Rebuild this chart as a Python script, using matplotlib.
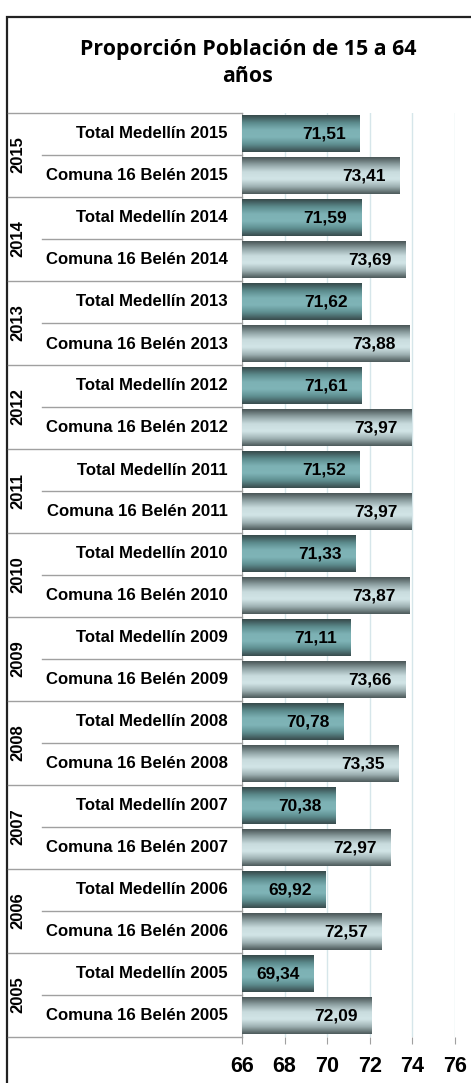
import numpy as np
import matplotlib.pyplot as plt
from matplotlib.colors import LinearSegmentedColormap
from matplotlib.patches import Rectangle
from matplotlib.lines import Line2D

# Data (top to bottom in the chart)
years = [2015, 2014, 2013, 2012, 2011, 2010, 2009, 2008, 2007, 2006, 2005]
medellin = [71.51, 71.59, 71.62, 71.61, 71.52, 71.33, 71.11, 70.78, 70.38, 69.92, 69.34]
comuna = [73.41, 73.69, 73.88, 73.97, 73.97, 73.87, 73.66, 73.35, 72.97, 72.57, 72.09]
xticks = [66, 68, 70, 72, 74, 76]
title = "Proporción Población de 15 a 64\naños"

W, H = 471, 1083
fig = plt.figure(figsize=(W / 100, H / 100), dpi=100)
fig.patch.set_facecolor("white")

ax_l, ax_r, ax_t, ax_b = 242, 455, 113, 1037
ax = fig.add_axes([ax_l / W, 1 - ax_b / H, (ax_r - ax_l) / W, (ax_b - ax_t) / H])

n_rows = 2 * len(years)
bar_h = 0.88

cmap_med = LinearSegmentedColormap.from_list(
    "med", ["#394c4d", "#5e8e90", "#7fb4b7", "#7db1b4", "#5b8a8c", "#374a4b"])
cmap_com = LinearSegmentedColormap.from_list(
    "com", ["#4d5a5b", "#9fb2b4", "#d2e5e7", "#c9dcde", "#8fa2a4", "#4a5657"])
grad = np.linspace(0, 1, 64).reshape(-1, 1)

font = "Liberation Sans"

for i, yr in enumerate(years):
    for j, (vals, cmap) in enumerate([(medellin, cmap_med), (comuna, cmap_com)]):
        y = 2 * i + j
        v = vals[i]
        bar = ax.barh(y, v - xticks[0], left=xticks[0], height=bar_h,
                      color="#7fb4b7", zorder=2)[0]
        x0, y0 = bar.get_x(), bar.get_y()
        ax.imshow(grad, cmap=cmap, aspect="auto", zorder=3,
                  extent=(x0, x0 + bar.get_width(), y0, y0 + bar.get_height()),
                  interpolation="bicubic")
        ax.text(v - 0.65, y, f"{v:.2f}".replace(".", ","), ha="right", va="center",
                fontsize=12.5, fontweight="bold", family=font, zorder=4)

ax.set_xlim(66, 76)
ax.set_ylim(n_rows - 0.5, -0.5)
ax.set_xticks(xticks)
ax.set_xticklabels([str(t) for t in xticks], fontsize=15.5, fontweight="bold", family=font)
ax.tick_params(axis="x", length=5, color="#a0a0a0", pad=9)
ax.set_yticks([])
ax.grid(axis="x", color="#d6e6ea", linewidth=1, zorder=0)
ax.set_axisbelow(True)
for s in ["top", "right", "bottom"]:
    ax.spines[s].set_visible(False)
ax.spines["left"].set_color("#a0a0a0")

# Category labels and table lines
row_px = (ax_b - ax_t) / n_rows
line_col = "#a0a0a0"
for i, yr in enumerate(years):
    for j, name in enumerate(["Total Medellín", "Comuna 16 Belén"]):
        yc = ax_t + (2 * i + j + 0.5) * row_px
        fig.text(228 / W, 1 - yc / H, f"{name} {yr}", ha="right", va="center",
                 fontsize=12.1, fontweight="bold", family=font)
    yg = ax_t + (2 * i + 1) * row_px
    fig.text(18 / W, 1 - yg / H, str(yr), rotation=90, ha="center", va="center",
             fontsize=12, fontweight="bold", family=font)
    # line within group
    fig.add_artist(Line2D([42 / W, ax_l / W], [1 - yg / H] * 2, color=line_col, lw=1))
for k in range(len(years) + 1):
    yl = ax_t + 2 * k * row_px
    fig.add_artist(Line2D([8 / W, ax_l / W], [1 - yl / H] * 2, color=line_col, lw=1))

# Title
fig.text(248 / W, 1 - 63 / H, title, ha="center", va="center", fontsize=15.4,
         fontweight="bold", family="Open Sans", linespacing=1.4)

# Outer frame
fig.add_artist(Rectangle((7 / W, -0.1), 1.2, 1 - 17 / H + 0.1, transform=fig.transFigure,
                         fill=False, edgecolor="#222222", lw=1.6))

fig.savefig("out.png", dpi=100)
